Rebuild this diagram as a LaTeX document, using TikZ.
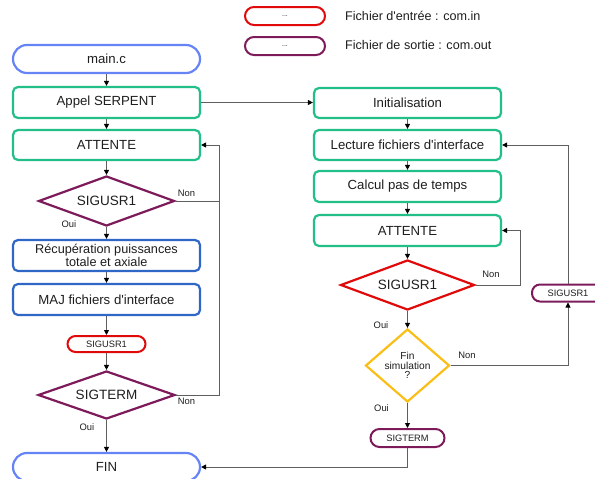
\documentclass[tikz,border=0pt]{standalone}
\usepackage{fontspec}
\setmainfont{Liberation Sans}
\usetikzlibrary{shapes.geometric,arrows.meta}
\definecolor{cgreen}{RGB}{35,191,137}
\definecolor{clblue}{RGB}{102,132,245}
\definecolor{cdblue}{RGB}{47,103,199}
\definecolor{cred}{RGB}{224,10,10}
\definecolor{cpurple}{RGB}{125,27,90}
\definecolor{cyellow}{RGB}{250,190,22}
\definecolor{cline}{RGB}{95,95,95}
\definecolor{ctext}{RGB}{30,30,30}
\newcommand{\apos}{\textquotesingle}
\begin{document}
\begin{tikzpicture}[x=1pt,y=1pt,
  every node/.style={text=ctext},
  box/.style={draw, rectangle, rounded corners=5pt, line width=2.2pt,
    minimum width=187pt, minimum height=31pt, inner sep=0pt, align=center,
    font=\fontsize{13.2}{13.2}\selectfont},
  greenbox/.style={box, draw=cgreen},
  bluebox/.style={box, draw=cdblue},
  endcap/.style={box, draw=clblue, rounded corners=14pt, minimum height=28pt},
  tag/.style={draw, rectangle, line width=2pt, rounded corners=8pt,
    minimum height=17pt, inner sep=0pt, font=\fontsize{9.3}{9.3}\selectfont},
  test/.style={draw, diamond, aspect=2.65, line width=2.2pt, inner sep=0pt, align=center,
    font=\fontsize{13.5}{13.5}\selectfont},
  lbl/.style={font=\fontsize{9.4}{9.4}\selectfont, inner sep=0pt},
  conn/.style={draw=cline, line width=0.9pt},
  arr/.style={conn, -{Triangle[length=5pt,width=5pt,color=black]}}
]
\useasboundingbox (0,0) rectangle (595,-479);
\clip (0,0) rectangle (595,-479);

% legend
\node[tag, draw=cred, minimum width=80pt, minimum height=18pt, rounded corners=9pt,
  font=\fontsize{7}{7}\selectfont] (legin) at (285,-16) {...};
\node[tag, draw=cpurple, minimum width=80pt, minimum height=18pt, rounded corners=9pt,
  font=\fontsize{7}{7}\selectfont] (legout) at (285,-46) {...};
\node[anchor=west, inner sep=0pt, font=\fontsize{12.6}{12.6}\selectfont]
  (legintxt) at (345,-16) {Fichier d\apos entrée : com.in};
\node[anchor=west, inner sep=0pt, font=\fontsize{12.6}{12.6}\selectfont]
  (legouttxt) at (345,-45) {Fichier de sortie : com.out};

% main program
\node[endcap] (main) at (106.5,-59) {main.c};
\node[greenbox] (appel) at (106.5,-102.5) {Appel SERPENT};
\node[greenbox, minimum height=30pt] (att1) at (106.5,-145) {ATTENTE};
\node[test, draw=cpurple, minimum width=136pt, minimum height=50pt] (sig1) at (106.5,-201) {SIGUSR1};
\node[bluebox, font=\fontsize{12.7}{11.7}\selectfont] (recup) at (106.5,-255.5)
  {Récupération puissances\\totale et axiale};
\node[bluebox] (maj) at (106.5,-299.5) {MAJ fichiers d\apos interface};
\node[tag, draw=cred, minimum width=78pt, minimum height=16pt] (sigu1) at (106.5,-344) {SIGUSR1};
\node[test, draw=cpurple, minimum width=137pt, minimum height=48pt] (sigt1) at (106.5,-395) {SIGTERM};
\node[endcap] (fin) at (106.5,-467) {FIN};

% SERPENT side
\node[greenbox, minimum height=30pt] (init) at (407.5,-103) {Initialisation};
\node[greenbox, minimum height=30pt] (lect) at (407.5,-145) {Lecture fichiers d\apos interface};
\node[greenbox] (calc) at (407.5,-186.5) {Calcul pas de temps};
\node[greenbox] (att2) at (407.5,-230.5) {ATTENTE};
\node[test, draw=cred, minimum width=134pt, minimum height=50pt] (sig2) at (407.5,-285) {SIGUSR1};
\node[test, draw=cyellow, aspect=1.15, minimum width=84pt, minimum height=73pt,
  font=\fontsize{10.2}{9.5}\selectfont] (finsim) at (407.5,-365.5) {Fin\\simulation\\?};
\node[tag, draw=cpurple, minimum width=74pt, minimum height=18pt, rounded corners=9pt] (sigt2) at (407.5,-438) {SIGTERM};
\node[tag, draw=cpurple, minimum width=72pt] (sigu2) at (568,-293) {SIGUSR1};

% loop corners
\coordinate (loopL) at (219,-145);
\coordinate (loopR) at (520,-230.5);
\coordinate (loopS) at (568,-145);

% main program flow
\draw[arr] (main) -- (appel);
\draw[arr] (appel) -- (att1);
\draw[arr] (att1) -- (sig1);
\draw[arr] (sig1) -- (recup);
\draw[arr] (recup) -- (maj);
\draw[arr] (maj) -- (sigu1);
\draw[arr] (sigu1) -- (sigt1);
\draw[arr] (sigt1) -- (fin);
\draw[arr] (sigt1.east) -| (loopL) -- (att1.east);
\draw[conn] (sig1.east) -- (sig1.east -| loopL);
\draw[arr] (appel.east) -- (init.west |- appel.east);

% SERPENT flow
\draw[arr] (init) -- (lect);
\draw[arr] (lect) -- (calc);
\draw[arr] (calc) -- (att2);
\draw[arr] (att2) -- (sig2);
\draw[arr] (sig2) -- (finsim);
\draw[arr] (finsim) -- (sigt2);
\draw[arr] (sig2.east) -| (loopR) -- (att2.east);
\draw[arr] (finsim.east) -| (sigu2.south);
\draw[arr] (sigu2.north) -- (loopS) -- (lect.east);
\draw[arr] (sigt2.south) |- (fin.east);

% branch labels
\node[lbl] (n1) at (186.5,-193) {Non};
\node[lbl] (o1) at (69,-224) {Oui};
\node[lbl] (n2) at (186.5,-401) {Non};
\node[lbl] (o2) at (87,-427.5) {Oui};
\node[lbl] (n3) at (491,-274) {Non};
\node[lbl] (o3) at (381,-325) {Oui};
\node[lbl] (n4) at (467,-355) {Non};
\node[lbl] (o4) at (381.5,-408) {Oui};
\end{tikzpicture}
\end{document}
